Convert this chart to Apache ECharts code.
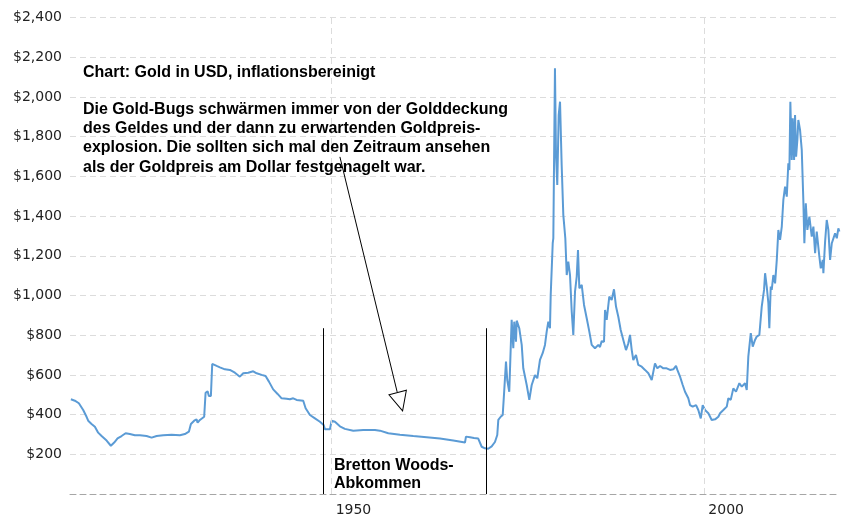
<!DOCTYPE html>
<html>
<head>
<meta charset="utf-8">
<script src="https://cdn.jsdelivr.net/npm/echarts@6/dist/echarts.min.js"></script>
<style>html,body{margin:0;padding:0;background:#fff;}#c{width:849px;height:519px;}</style>
</head>
<body>
<div id="c"></div>
<script>
// ---- data ----
const years = [1915.02,1915.55,1916.09,1916.67,1917.12,1917.34,1917.79,1918.24,1918.68,1919.14,1919.81,1920.38,1920.83,1921.28,1921.82,1922.36,1922.93,1923.60,1924.28,1925.17,1925.85,1926.52,1927.40,1928.53,1929.64,1930.31,1930.85,1931.12,1931.56,1931.88,1932.02,1932.33,1932.90,1933.09,1933.36,1933.53,1933.80,1933.98,1934.57,1935.01,1935.68,1936.35,1937.02,1937.69,1938.14,1938.81,1939.48,1939.94,1940.61,1941.14,1941.59,1942.16,1942.75,1943.29,1943.96,1944.40,1944.85,1945.30,1946.19,1946.51,1947.09,1947.76,1948.43,1948.93,1949.10,1949.77,1950.00,1950.44,1951.11,1951.78,1952.90,1954.24,1955.81,1956.48,1957.60,1959.17,1960.95,1962.75,1964.53,1966.32,1967.89,1968.02,1968.56,1969.10,1969.67,1969.90,1970.13,1970.57,1971.01,1971.47,1971.91,1972.22,1972.36,1972.68,1972.95,1973.12,1973.39,1973.56,1973.83,1974.15,1974.37,1974.50,1974.73,1974.83,1975.17,1975.50,1975.71,1976.17,1976.52,1976.84,1977.28,1977.59,1977.95,1978.31,1978.62,1978.85,1979.07,1979.29,1979.39,1979.66,1979.74,1979.96,1980.10,1980.27,1980.46,1980.64,1980.86,1981.08,1981.35,1981.54,1981.75,1981.98,1982.21,1982.42,1982.65,1982.88,1983.05,1983.23,1983.55,1983.86,1984.22,1984.57,1984.89,1985.10,1985.33,1985.78,1986.00,1986.23,1986.54,1986.68,1986.90,1987.25,1987.57,1987.88,1988.15,1988.46,1988.78,1989.13,1989.49,1989.80,1990.03,1990.26,1990.47,1990.83,1991.14,1991.60,1992.04,1992.49,1992.94,1993.16,1993.38,1993.69,1994.06,1994.50,1994.95,1995.40,1995.84,1996.20,1996.38,1996.74,1997.10,1997.41,1997.85,1998.08,1998.44,1998.89,1999.19,1999.52,1999.78,2000.09,2000.54,2000.99,2001.44,2001.88,2002.11,2002.55,2003.01,2003.22,2003.54,2003.89,2004.25,2004.70,2005.02,2005.46,2005.69,2005.90,2006.23,2006.49,2006.80,2007.03,2007.38,2007.70,2008.01,2008.15,2008.37,2008.59,2008.72,2008.91,2009.04,2009.26,2009.49,2009.72,2009.93,2010.16,2010.39,2010.60,2010.83,2011.06,2011.27,2011.41,2011.54,2011.73,2011.86,2012.04,2012.17,2012.31,2012.48,2012.61,2012.84,2013.07,2013.28,2013.42,2013.61,2013.82,2014.09,2014.41,2014.63,2014.86,2015.08,2015.43,2015.62,2015.89,2015.97,2016.20,2016.42,2016.64,2016.87,2017.10,2017.31,2017.54,2017.77,2017.98,2018.12];
const goldUSD = [477,470,457,423,389,369,353,339,309,292,269,243,259,280,292,306,302,296,296,292,284,292,296,299,296,302,314,353,369,376,359,373,389,510,517,494,494,655,645,638,628,625,611,591,608,611,618,608,600,594,566,527,504,482,480,477,482,474,470,432,398,381,364,348,326,326,369,364,341,328,319,322,322,319,306,299,292,286,280,269,259,289,286,282,279,269,238,230,228,240,262,297,373,389,398,499,667,574,515,877,734,868,767,873,835,751,633,549,474,549,599,583,675,709,751,818,868,835,1003,1263,1288,2144,1708,1557,1909,1976,1657,1406,1288,1103,1170,1103,918,801,1019,1095,1229,1036,1053,952,885,818,751,742,734,751,740,770,767,927,877,994,977,1031,944,893,826,776,725,759,801,725,675,700,650,641,625,608,574,566,658,633,645,633,633,625,628,645,625,591,549,515,482,448,440,448,423,381,448,423,407,373,376,389,407,423,440,482,474,532,515,558,541,558,524,692,810,742,776,793,801,944,1028,1112,1045,961,835,1045,1028,1103,1061,1179,1330,1280,1347,1481,1548,1498,1666,1632,1976,1683,1893,1683,1909,1699,1783,1884,1834,1733,1481,1263,1464,1330,1397,1296,1347,1213,1322,1196,1137,1179,1112,1271,1380,1330,1179,1263,1254,1313,1288,1338,1322];
const xTickLabels = [1950, 2000];
const yTicks = {min: 0, max: 2400, step: 200};
const brettonWoodsYears = [1948.93, 1970.71];
const brettonWoodsTop = 835;
const arrowFrom = [1951.11, 1698];
const arrowTo = [1958.79, 514];
const arrowHeadAt = [1959.19, 465];
const titleText = 'Chart: Gold in USD, inflationsbereinigt';
const bodyText = 'Die Gold-Bugs schwärmen immer von der Golddeckung\ndes Geldes und der dann zu erwartenden Goldpreis-\nexplosion. Die sollten sich mal den Zeitraum ansehen\nals der Goldpreis am Dollar festgenagelt war.';
const bwText = 'Bretton Woods-\nAbkommen';

const seriesData = years.map((y, i) => [y, goldUSD[i]]);
const gridColor = '#dcdcdc';
const textFont = 'bold 16px "Liberation Sans", Arial, sans-serif';

const chart = echarts.init(document.getElementById('c'), null, {renderer: 'canvas'});
chart.setOption({
  animation: false,
  backgroundColor: '#fff',
  grid: {left: 70, right: 9, top: 17.5, bottom: 25, containLabel: false},
  xAxis: {
    type: 'value', min: 1914.9, max: 2018.2,
    splitLine: {show: false},
    axisTick: {show: false},
    axisLine: {show: true, onZero: false, lineStyle: {color: '#a6a6a6', type: [6, 4], width: 1}},
    axisLabel: {
      customValues: xTickLabels,
      formatter: v => String(v),
      align: 'left', padding: [0, 0, 0, 4], margin: 9,
      fontFamily: 'DejaVu Sans', fontSize: 14, color: '#222'
    }
  },
  yAxis: {
    type: 'value', min: yTicks.min, max: yTicks.max, interval: yTicks.step,
    axisLine: {show: false}, axisTick: {show: false},
    splitLine: {show: true, lineStyle: {color: gridColor, type: [6, 4], width: 1}},
    axisLabel: {
      formatter: v => v === 0 ? '' : '$' + v.toLocaleString('en-US'),
      fontFamily: 'DejaVu Sans', fontSize: 14, color: '#222', margin: 8
    }
  },
  series: [
    {
      type: 'line', data: [], z: 1, silent: true,
      markLine: {
        silent: true, symbol: 'none', label: {show: false}, animation: false,
        lineStyle: {color: gridColor, type: [6, 4], width: 1},
        data: xTickLabels.map(v => ({xAxis: v}))
      }
    },
    {
      type: 'line', data: seriesData, z: 3, showSymbol: false, symbol: 'none',
      lineStyle: {color: '#5B9BD5', width: 2}, silent: true
    },
    {
      type: 'line', data: [], z: 4, silent: true,
      markLine: {
        silent: true, symbol: 'none', label: {show: false}, animation: false,
        lineStyle: {color: '#000', type: 'solid', width: 1},
        data: brettonWoodsYears.map(y => [{coord: [y, 0]}, {coord: [y, brettonWoodsTop]}])
          .concat([[{coord: arrowFrom}, {coord: arrowTo}]])
      },
      markPoint: {
        silent: true, animation: false,
        data: [{coord: arrowHeadAt, symbol: 'triangle', symbolSize: [18, 19], symbolRotate: 195,
          itemStyle: {color: '#fff', borderColor: '#000', borderWidth: 1}, label: {show: false}}]
      }
    }
  ],
  graphic: [
    {type: 'text', left: 83, top: 65, z: 10, style: {text: titleText, font: textFont, fill: '#000'}},
    {type: 'text', left: 83, top: 100, z: 10, style: {text: bodyText, font: textFont, fill: '#000', lineHeight: 19.2}},
    {type: 'text', left: 334, top: 456, z: 10, style: {text: bwText, font: textFont, fill: '#000', lineHeight: 18.6}}
  ]
});
</script>
</body>
</html>
